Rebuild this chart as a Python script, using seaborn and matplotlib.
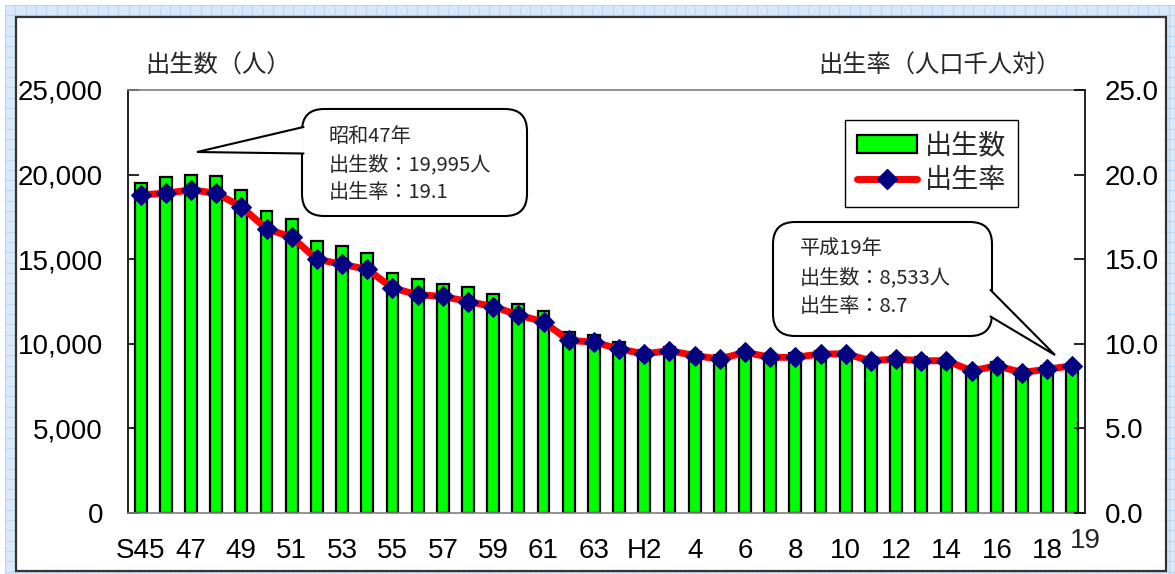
import numpy as np
import pandas as pd
import matplotlib
matplotlib.use("Agg")
import matplotlib.pyplot as plt
import seaborn as sns
from matplotlib.patches import FancyBboxPatch, Polygon, Patch, Rectangle
from matplotlib.lines import Line2D
from matplotlib.ticker import FuncFormatter

# ---------------- data ----------------
years = ["S45", "S46", "S47", "S48", "S49", "S50", "S51", "S52", "S53", "S54",
         "S55", "S56", "S57", "S58", "S59", "S60", "S61", "S62", "S63",
         "H1", "H2", "H3", "H4", "H5", "H6", "H7", "H8", "H9", "H10",
         "H11", "H12", "H13", "H14", "H15", "H16", "H17", "H18", "H19"]
births = [19520, 19840, 19995, 19920, 19090, 17870, 17360, 16090, 15780, 15390,
          14170, 13830, 13530, 13340, 12940, 12350, 11960, 10720, 10500,
          10100, 9650, 9800, 9500, 9350, 9700, 9400, 9450, 9600, 9600,
          9200, 9300, 9200, 9150, 8650, 8900, 8500, 8700, 8533]
rates = [18.8, 18.9, 19.1, 18.9, 18.1, 16.8, 16.3, 15.0, 14.7, 14.4,
         13.3, 12.9, 12.8, 12.5, 12.2, 11.7, 11.3, 10.2, 10.1,
         9.7, 9.4, 9.6, 9.3, 9.1, 9.5, 9.2, 9.2, 9.4, 9.4,
         9.0, 9.1, 9.0, 9.0, 8.4, 8.7, 8.3, 8.5, 8.7]
xtick_labels = ["S45", "47", "49", "51", "53", "55", "57", "59", "61", "63",
                "H2", "4", "6", "8", "10", "12", "14", "16", "18"]
last_label = "19"
left_ticks = [0, 5000, 10000, 15000, 20000, 25000]
right_ticks = [0, 5, 10, 15, 20, 25]
left_title = "出生数（人）"
right_title = "出生率（人口千人対）"
legend_labels = ["出生数", "出生率"]
note_left = ["昭和47年", "出生数：19,995人", "出生率：19.1"]
note_right = ["平成19年", "出生数：8,533人", "出生率：8.7"]

df = pd.DataFrame({"year": years, "births": births, "rate": rates,
                   "pos": np.arange(len(years))})

# ---------------- style ----------------
sns.set_theme(style="white")
plt.rcParams['font.family'] = ['Liberation Sans', 'Noto Sans CJK JP']
CJK = ['Noto Sans CJK JP', 'Liberation Sans']

W, H = 1175, 574
fig = plt.figure(figsize=(W / 100, H / 100), dpi=100)
fig.patch.set_facecolor("white")

# background (spreadsheet-like grid + white frame)
bg = fig.add_axes([0, 0, 1, 1], zorder=-10)
bg.set_xlim(0, W)
bg.set_ylim(H, 0)
bg.axis("off")
bg.add_patch(Rectangle((5, 5), W, H, facecolor="#d9e8fb", edgecolor="none",
                       zorder=1))
gx = np.arange(5, W, 10.3)
gy = np.arange(5, H, 10.3)
bg.vlines(gx, 5, H, color="#bcd5f3", lw=0.8, zorder=2)
bg.hlines(gy, 5, W, color="#bcd5f3", lw=0.8, zorder=2)
bg.add_patch(Rectangle((16, 17), 1150, 554, facecolor="white",
                       edgecolor="#333333", lw=1.6, zorder=5))

# main axes
L, R, T, B = 128, 1085, 90, 513
ax = fig.add_axes([L / W, 1 - B / H, (R - L) / W, (B - T) / H])
ax.patch.set_facecolor("white")
sns.barplot(data=df, x="year", y="births", ax=ax, color="#00ff00",
            saturation=1, edgecolor="black", linewidth=1.6, width=0.47)
ax.set_ylim(0, 25000)
ax.set_yticks(left_ticks)
ax.yaxis.set_major_formatter(FuncFormatter(lambda v, p: f"{int(v):,}"))
ax.set_xticks(np.arange(0, 37, 2))
ax.set_xticklabels(xtick_labels)
ax.tick_params(axis="y", direction="in", length=8, width=1.2, pad=18,
               labelsize=20, colors="black", left=True)
ax.tick_params(axis="x", length=0, pad=18, labelsize=20, colors="black")
ax.set_xlabel("")
ax.set_ylabel("")
for s in ["top", "bottom"]:
    ax.spines[s].set_color("#808080")
    ax.spines[s].set_linewidth(1.2)
ax.spines["left"].set_color("#222222")
ax.spines["left"].set_linewidth(1.4)
ax.spines["right"].set_visible(False)

ax2 = ax.twinx()
sns.lineplot(data=df, x="pos", y="rate", ax=ax2, color="red", linewidth=5,
             marker="D", markersize=10, markerfacecolor="#000080",
             markeredgecolor="#000080", sort=False,
             solid_joinstyle="round", solid_capstyle="round")
ax2.set_ylim(0, 25)
ax2.set_yticks(right_ticks)
ax2.yaxis.set_major_formatter(FuncFormatter(lambda v, p: f"{v:.1f}"))
ax2.tick_params(axis="y", direction="in", length=8, width=1.2, pad=14,
                labelsize=20, colors="black", right=True)
ax2.set_ylabel("")
ax2.set_xlabel("")
for s in ["top", "bottom", "left"]:
    ax2.spines[s].set_visible(False)
ax2.spines["right"].set_color("#222222")
ax2.spines["right"].set_linewidth(1.4)
ax.set_xlim(-0.5, len(years) - 0.5)
ax2.set_xlim(-0.5, len(years) - 0.5)

# legend
handles = [Patch(facecolor="#00ff00", edgecolor="black", linewidth=1.6),
           Line2D([], [], color="red", lw=5, marker="D", markersize=10,
                  markerfacecolor="#000080", markeredgecolor="#000080",
                  solid_capstyle="round")]
leg = ax2.legend(handles, legend_labels, loc="upper left",
                 bbox_to_anchor=(845 / W, 1 - 120 / H),
                 bbox_transform=fig.transFigure, fancybox=False,
                 frameon=True, edgecolor="black", framealpha=1,
                 prop={"family": CJK, "size": 19.5}, handlelength=2.2,
                 handleheight=0.65, borderaxespad=0, borderpad=0.45,
                 labelspacing=0.3, handletextpad=0.3)
leg.get_frame().set_linewidth(1.0)
leg._legend_box.sep = 0
for t in leg.get_texts():
    t.set_fontfamily(CJK)

# overlay: titles, callouts, last tick label
ov = fig.add_axes([0, 0, 1, 1], zorder=20)
ov.set_xlim(0, W)
ov.set_ylim(H, 0)
ov.axis("off")
ov.patch.set_visible(False)

ov.text(145, 66, left_title, fontsize=17.5, family=CJK, va="center", ha="left")
ov.text(818, 66, right_title, fontsize=17.5, family=CJK, va="center", ha="left")
ov.text(1085, 541, last_label, fontsize=20, va="center", ha="center")


def callout(x0, y0, w, h, wedge, lines, tx, ty0, dy):
    box = FancyBboxPatch((x0, y0), w, h,
                         boxstyle="round,pad=0,rounding_size=22",
                         facecolor="white", edgecolor="black", lw=1.5)
    ov.add_patch(box)
    (ax_, ay_), tip, (bx_, by_) = wedge
    ov.add_patch(Polygon([(ax_, ay_), tip, (bx_, by_)], closed=True,
                         facecolor="white", edgecolor="none", zorder=3))
    ov.plot([ax_, tip[0], bx_], [ay_, tip[1], by_], color="black", lw=1.5,
            zorder=4, solid_joinstyle="miter")
    for i, s in enumerate(lines):
        ov.text(tx, ty0 + i * dy, s, fontsize=14.5, family=CJK,
                va="center", ha="left", zorder=5)


callout(302, 109, 225, 107,
        [(303.5, 127), (197, 152), (303.5, 153.5)],
        note_left, 329, 137, 27.5)
callout(773, 222, 219, 114,
        [(990.5, 290), (1055, 355), (990.5, 316.5)],
        note_right, 800, 249, 28.5)

fig.savefig("out.png", dpi=100)
